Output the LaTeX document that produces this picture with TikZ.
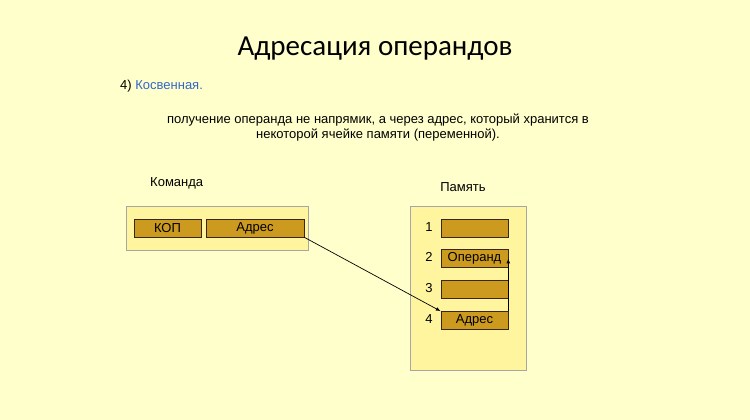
\documentclass[tikz,border=0pt]{standalone}
\usepackage{fontspec}
\setmainfont{Liberation Sans}
\newfontfamily\titlefont{Carlito}
\definecolor{slidebg}{HTML}{FFFFCC}
\definecolor{boxbg}{HTML}{FFF59E}
\definecolor{cellbg}{HTML}{CC9A1E}
\definecolor{linkblue}{HTML}{3366CC}
\tikzset{
  panel/.style={draw=gray!70, fill=boxbg, line width=0.8pt},
  cell/.style={draw=black!70!brown, fill=cellbg, line width=0.6pt, minimum height=18pt, inner sep=0pt, font=\fontsize{13}{15}\selectfont},
  label/.style={font=\fontsize{13}{15}\selectfont, inner sep=0pt},
}
\begin{document}
\begin{tikzpicture}[x=1pt,y=-1pt]
    \fill[slidebg] (0,0) rectangle (750,420);
    \useasboundingbox (0,0) rectangle (750,420);

    \node[font=\titlefont\fontsize{29}{33}\selectfont] (title) at (375,49) {Адресация операндов};
    \node[label, anchor=west] (kind) at (120,86) {4) \textcolor{linkblue}{Косвенная.}};
    \node[label, align=center] (descr) at (378,128)
        {получение операнда не напрямик, а через адрес, который хранится в\\некоторой ячейке памяти (переменной).};

    % command
    \node[label, anchor=west] (cmdtitle) at (150,183) {Команда};
    \draw[panel] (126,206) rectangle (308,250);
    \node[cell, minimum width=67pt] (kop) at (167.5,228) {КОП};
    \node[cell, minimum width=98pt] (addr) at (255,228) {Адрес};

    % memory
    \node[label] (memtitle) at (463,187) {Память};
    \draw[panel] (410,206) rectangle (526,370);
    \node[cell, minimum width=67pt] (m1) at (474.5,228) {};
    \node[cell, minimum width=67pt] (m2) at (474.5,258.5) {Операнд};
    \node[cell, minimum width=67pt] (m3) at (474.5,289.5) {};
    \node[cell, minimum width=67pt] (m4) at (474.5,320.5) {Адрес};
    \foreach \i/\y in {1/227,2/257,3/288,4/319}
        \node[label] (n\i) at (429,\y) {\i};

    \draw[-latex, line width=0.7pt] (addr.south east) -- (m4.north west);
    \draw[-latex, line width=0.7pt] (m4.north east) -- (m2.east);
\end{tikzpicture}
\end{document}
